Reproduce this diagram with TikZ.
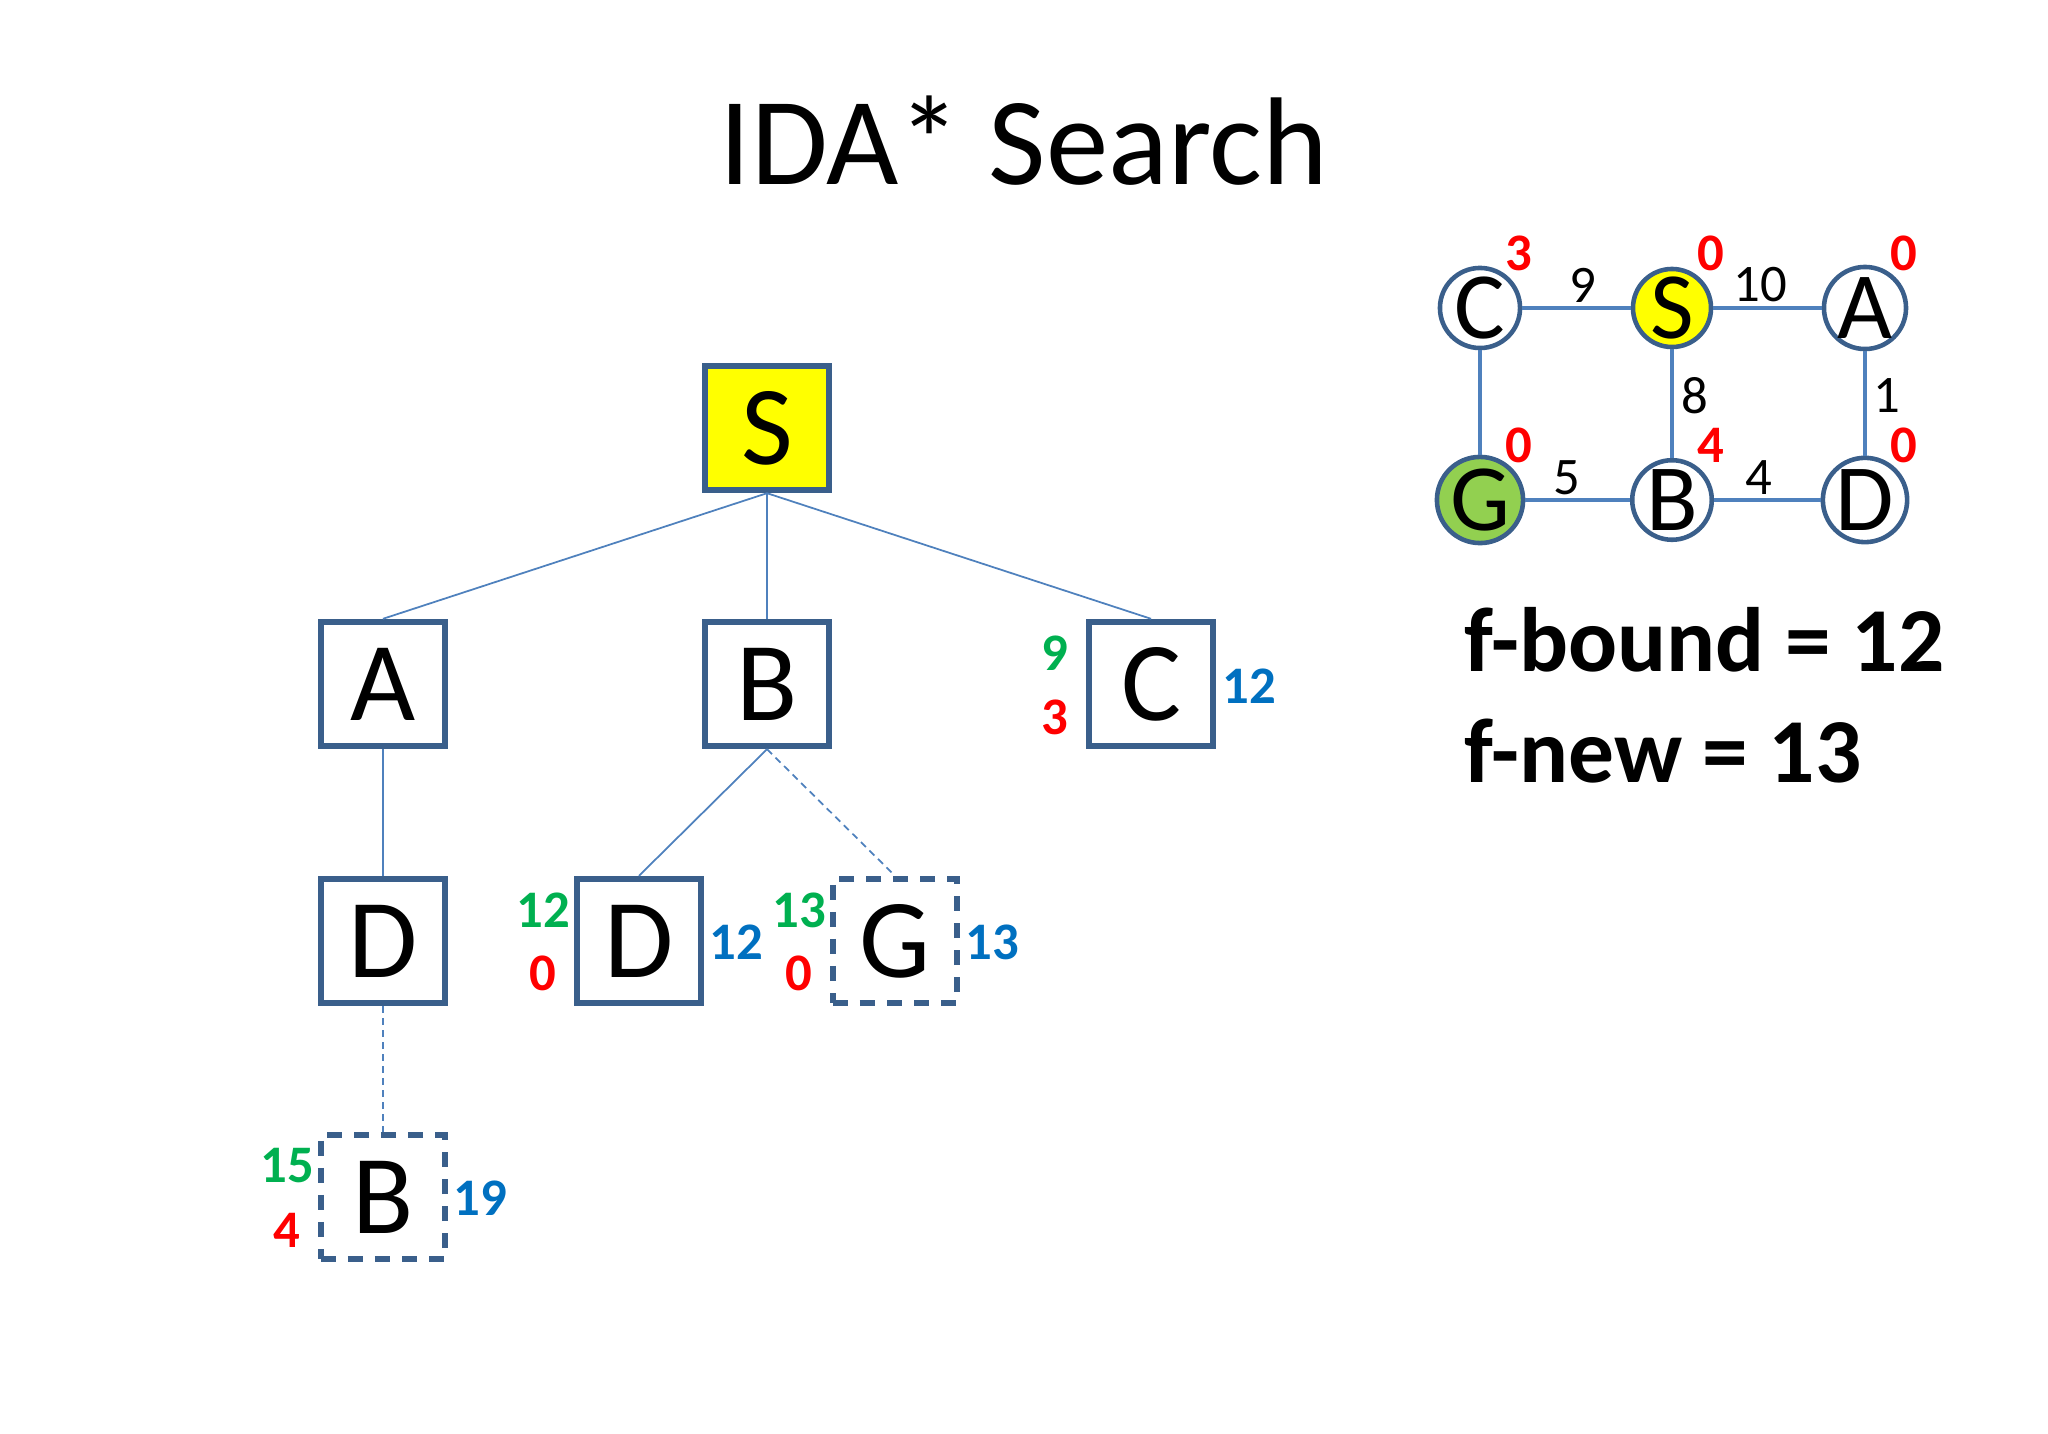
\documentclass[tikz,border=0pt]{standalone}
\usepackage{fontspec}
\setmainfont{Carlito}
\usepackage{xcolor}
\usetikzlibrary{positioning}
\definecolor{boxx}{HTML}{3A5F8B}
\definecolor{edgex}{HTML}{4F81BD}
\definecolor{gx}{HTML}{00B050}
\definecolor{hx}{HTML}{FF0000}
\definecolor{fx}{HTML}{0070C0}
\definecolor{startx}{HTML}{FFFF00}
\definecolor{goalx}{HTML}{92D050}
\tikzset{
  tbox/.style={draw=boxx,line width=1.8pt,fill=white,minimum size=1.24cm,inner sep=0pt,font=\fontsize{32}{36}\selectfont},
  cutbox/.style={tbox,dash pattern=on 0.15cm off 0.12cm},
  gnode/.style={circle,draw=boxx,line width=1.3pt,fill=white,minimum size=0.78cm,inner sep=0pt,font=\fontsize{27}{30}\selectfont},
  te/.style={edgex,line width=0.5pt},
  tcut/.style={te,dash pattern=on 0.07cm off 0.05cm},
  ge/.style={edgex,line width=0.9pt},
  gv/.style={font=\bfseries\fontsize{15}{18}\selectfont,text=gx},
  hv/.style={font=\bfseries\fontsize{15}{18}\selectfont,text=hx},
  fv/.style={font=\bfseries\fontsize{15}{18}\selectfont,text=fx},
  wv/.style={font=\fontsize{15}{18}\selectfont}
}
\begin{document}
\begin{tikzpicture}[x=0.01cm,y=-0.01cm]
\useasboundingbox (0,0) rectangle (2048,1434);
\node[font=\fontsize{35.5}{42}\selectfont] (title) at (1024,141) {IDA* Search};
% search tree
\node[tbox,fill=startx] (s) at (767,428) {S};
\node[tbox] (a) at (383,684) {A};
\node[tbox] (b) at (767,684) {B};
\node[tbox] (c) at (1151,684) {C};
\node[tbox] (ad) at (383,941) {D};
\node[tbox] (bd) at (639,941) {D};
\node[cutbox] (bg) at (895,941) {G};
\node[cutbox] (adb) at (383,1197) {B};
\draw[te] (s.south) -- (a.north);
\draw[te] (s.south) -- (b.north);
\draw[te] (s.south) -- (c.north);
\draw[te] (a.south) -- (ad.north);
\draw[te] (b.south) -- (bd.north);
\draw[tcut] (b.south) -- (bg.north);
\draw[tcut] (ad.south) -- (adb.north);
% g, h and f values
\node[gv] (cg) at (1055,653) {9};
\node[hv] (ch) at (1055,717) {3};
\node[fv] (cf) at (1249,686) {12};
\node[gv] (bdg) at (543,910) {12};
\node[hv] (bdh) at (543,973) {0};
\node[fv] (bdf) at (736,942) {12};
\node[gv] (bgg) at (799,910) {13};
\node[hv] (bgh) at (799,973) {0};
\node[fv] (bgf) at (992,942) {13};
\node[gv] (adbg) at (287,1166) {15};
\node[hv] (adbh) at (287,1230) {4};
\node[fv] (adbf) at (480,1198) {19};
% state graph
\node[gnode] (gc) at (1480,308) {C};
\node[gnode,fill=startx] (gs) at (1672,308) {S};
\node[gnode] (ga) at (1865,308) {A};
\node[gnode,fill=goalx] (gg) at (1480,500) {G};
\node[gnode] (gb) at (1672,500) {B};
\node[gnode] (gd) at (1865,500) {D};
\draw[ge] (gc) -- (gs);
\draw[ge] (gs) -- (ga);
\draw[ge] (gc) -- (gg);
\draw[ge] (gs) -- (gb);
\draw[ge] (ga) -- (gd);
\draw[ge] (gg) -- (gb);
\draw[ge] (gb) -- (gd);
\node[wv] (w9) at (1583,285) {9};
\node[wv] (w10) at (1760,285) {10};
\node[wv] (w8) at (1695,396) {8};
\node[wv] (w1) at (1887,396) {1};
\node[wv] (w5) at (1567,478) {5};
\node[wv] (w4) at (1759,478) {4};
\node[hv] (hc) at (1519,253) {3};
\node[hv] (hs) at (1711,253) {0};
\node[hv] (ha) at (1904,253) {0};
\node[hv] (hg) at (1519,445) {0};
\node[hv] (hb) at (1711,445) {4};
\node[hv] (hd) at (1904,445) {0};
% bounds
\node[font=\bfseries\fontsize{26}{32}\selectfont,anchor=west] (fb) at (1452,640) {f-bound = 12};
\node[font=\bfseries\fontsize{26}{32}\selectfont,anchor=west] (fn) at (1452,751) {f-new = 13};
\end{tikzpicture}
\end{document}
